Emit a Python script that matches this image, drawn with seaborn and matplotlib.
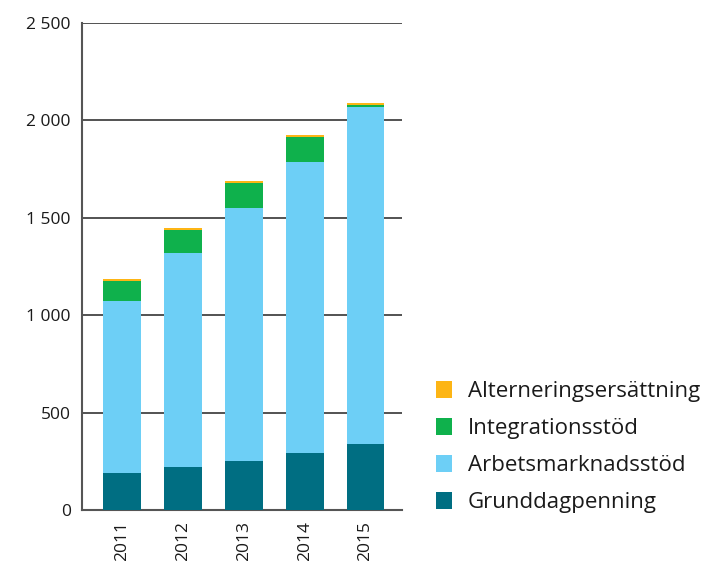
import matplotlib
matplotlib.use("Agg")
import matplotlib.pyplot as plt
import seaborn as sns
import numpy as np
import pandas as pd
from matplotlib.patches import Patch
from matplotlib.ticker import FuncFormatter

years = ["2011", "2012", "2013", "2014", "2015"]
grunddagpenning = [191, 222, 253, 294, 340]
arbetsmarknadsstod = [882, 1097, 1299, 1492, 1730]
integrationsstod = [103, 118, 127, 129, 9]
alterneringsersattning = [10, 11, 10, 10, 10]

series_names = ["Grunddagpenning", "Arbetsmarknadsstöd", "Integrationsstöd", "Alterneringsersättning"]
series_values = [grunddagpenning, arbetsmarknadsstod, integrationsstod, alterneringsersattning]
colors = ["#006E82", "#6DCFF6", "#0FB14C", "#FDB515"]

sns.set_style("white")
plt.rcParams["font.family"] = ["Open Sans", "DejaVu Sans"]

fig = plt.figure(figsize=(7.12, 5.61), dpi=100)
ax = fig.add_axes([82/712, 51/561, 320/712, 487/561])

cum = np.cumsum(np.array(series_values), axis=0)
# draw from top layer down so lower layers overlay
for i in range(len(series_names) - 1, -1, -1):
    df = pd.DataFrame({"year": years, "value": cum[i]})
    sns.barplot(data=df, x="year", y="value", color=colors[i], width=0.62,
                saturation=1, ax=ax, zorder=3, linewidth=0, edgecolor="none")

ax.set_ylim(0, 2500)
ax.set_xlim(-0.66, 4.6)
ax.set_yticks([0, 500, 1000, 1500, 2000, 2500])
ax.yaxis.set_major_formatter(FuncFormatter(lambda v, p: f"{int(v):,}".replace(",", " ")))
ax.grid(axis="y", color="#444444", linewidth=1.3, zorder=0)
ax.grid(axis="x", visible=False)
for s in ["top", "right"]:
    ax.spines[s].set_visible(False)
for s in ["left", "bottom"]:
    ax.spines[s].set_visible(True)
    ax.spines[s].set_color("#555555")
    ax.spines[s].set_linewidth(1.5)
ax.set_xlabel("")
ax.set_ylabel("")
ax.tick_params(axis="y", length=0, pad=8, labelsize=12.5, labelcolor="#1a1a1a")
ax.tick_params(axis="x", length=0, pad=8, labelsize=12.5, labelcolor="#1a1a1a")
for lbl in ax.get_xticklabels():
    lbl.set_rotation(90)

handles = [Patch(facecolor=colors[i], edgecolor="none") for i in range(3, -1, -1)]
labels = [series_names[i] for i in range(3, -1, -1)]
fig.legend(handles, labels, loc="center left", bbox_to_anchor=(0.612, 0.203),
           frameon=False, fontsize=16, handlelength=0.75, handleheight=0.75,
           handletextpad=0.7, labelspacing=0.72, labelcolor="#1a1a1a",
           borderaxespad=0, borderpad=0)

fig.savefig("out.png", dpi=100)
